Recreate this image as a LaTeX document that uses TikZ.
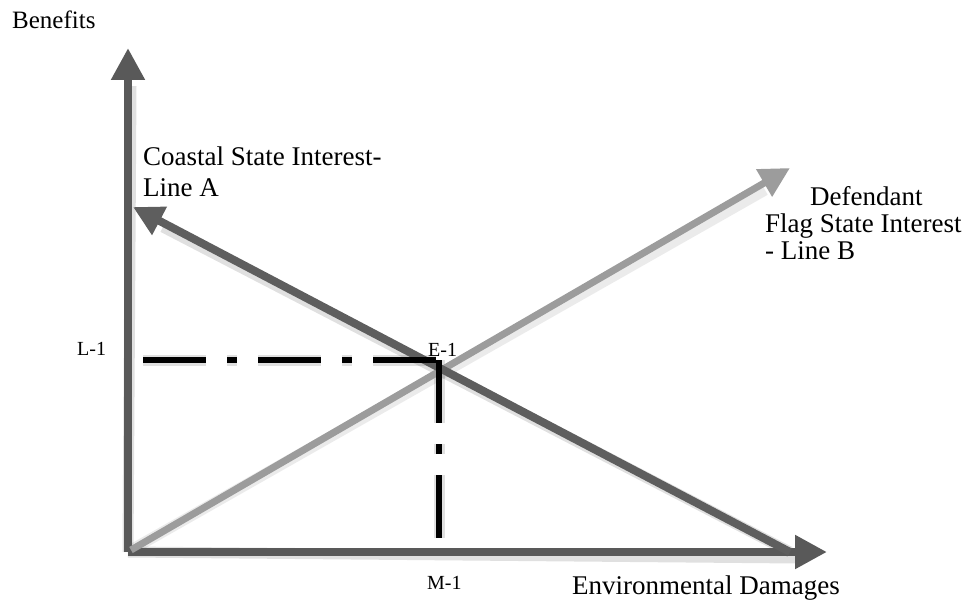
\documentclass[tikz,border=0pt]{standalone}
\usepackage{fontspec}
\setmainfont{Liberation Serif}
\usetikzlibrary{arrows.meta}
\definecolor{axisgray}{HTML}{595959}
\definecolor{agray}{HTML}{5E5E5E}
\definecolor{bgray}{HTML}{9C9C9C}
\tikzset{
  lbl/.style={inner sep=0pt, anchor=base west, font=\fontsize{27}{31}\selectfont},
  smalllbl/.style={inner sep=0pt, anchor=base west, font=\fontsize{20}{24}\selectfont},
  axisline/.style={draw=axisgray, line width=8pt, -{Triangle[length=32pt,width=32pt]}},
  linea/.style={draw=agray, line width=8pt, -{Triangle[length=30pt,width=30pt]}},
  lineb/.style={draw=bgray, line width=7pt, -{Triangle[length=30pt,width=30pt]}},
  dashdot/.style={draw=black, line width=6pt, line cap=butt, dash pattern=on 63pt off 21pt on 10pt off 21pt},
  shadowline/.style={draw=black, opacity=0.12, line width=11pt}
}
\begin{document}
\begin{tikzpicture}[x=1pt,y=-1pt]
\useasboundingbox (0,0) rectangle (971,601);
% key points
\coordinate (O) at (128,552);
\coordinate (Ytip) at (128,48);
\coordinate (Xtip) at (827,552);
\coordinate (Astart) at (790,552);
\coordinate (Atip) at (133,207);
\coordinate (Bstart) at (131,550);
\coordinate (Btip) at (790,168);
\coordinate (E) at (439,360);
\coordinate (Lstart) at (143,360);
\coordinate (Mend) at (439,539);
% soft shadows
\begin{scope}[shift={(3,6)}]
  \draw[shadowline] (O) -- (128,80);
  \draw[shadowline] (O) -- (795,552);
  \draw[shadowline] (Astart) -- (160,221);
  \draw[shadowline, opacity=0.08] (Bstart) -- (762,184);
  \draw[shadowline, dash pattern=on 63pt off 21pt on 10pt off 21pt] (Lstart) -- (E);
  \draw[shadowline, dash pattern=on 63pt off 21pt on 10pt off 21pt] (E) -- (Mend);
\end{scope}
% axes
\draw[axisline] (O) -- (Ytip);
\draw[axisline] (O) -- (Xtip);
% interest lines
\draw[lineb] (Bstart) -- (Btip);
\draw[linea] (Astart) -- (Atip);
% dash-dot guides
\draw[dashdot] (Lstart) -- (E);
\draw[dashdot] (E) -- (Mend);
% labels
\node[lbl, font=\fontsize{25}{29}\selectfont] (benefits) at (12,29) {Benefits};
\node[lbl] (coastal1) at (143,166) {Coastal State Interest-};
\node[lbl] (coastal2) at (143,197) {Line A};
\node[lbl] (def1) at (810,206) {Defendant};
\node[lbl] (def2) at (765,233) {Flag State Interest};
\node[lbl] (def3) at (765,260) {- Line B};
\node[smalllbl] (l1) at (77,355) {L-1};
\node[smalllbl] (e1) at (428,356) {E-1};
\node[smalllbl] (m1) at (427,589) {M-1};
\node[lbl] (env) at (572,594) {Environmental Damages};
\end{tikzpicture}
\end{document}
